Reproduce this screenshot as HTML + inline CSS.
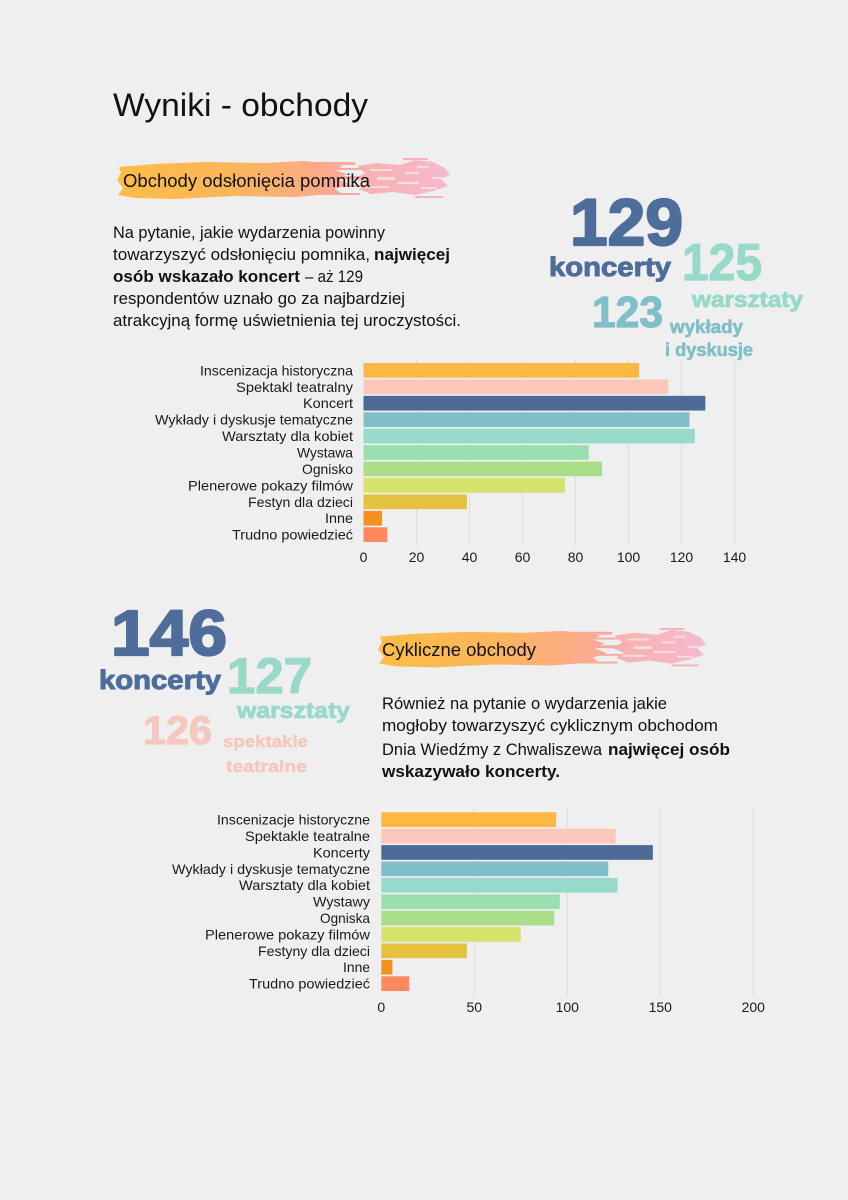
<!DOCTYPE html>
<html>
<head>
<meta charset="utf-8">
<style>
html,body{margin:0;padding:0;background:#efefef;}
svg{display:block;}
text{font-family:"Liberation Sans","DejaVu Sans",sans-serif;}
.b{font-weight:bold;}
.lab{font-size:14px;fill:#1a1a1a;}
.tick{font-size:14px;fill:#1a1a1a;}
.p{font-size:16.5px;fill:#111;}
</style>
</head>
<body>
<svg width="848" height="1200" viewBox="0 0 848 1200" xmlns="http://www.w3.org/2000/svg">
<defs>
<linearGradient id="bg1" gradientUnits="userSpaceOnUse" x1="0" y1="0" x2="335" y2="0">
<stop offset="0" stop-color="#fdbd45"/>
<stop offset="0.35" stop-color="#fcb65a"/>
<stop offset="0.6" stop-color="#fbab86"/>
<stop offset="0.72" stop-color="#f9aaa4"/>
<stop offset="1" stop-color="#f7b4cc"/>
</linearGradient>
<g id="brush">
<path fill="url(#bg1)" d="M4,9 L40,6 L90,4 L150,5 L190,3 L215,6 L228,8 L220,12 L232,16 L222,21 L234,26 L220,31 L226,35 L180,39 L120,38 L60,41 L20,40 L3,37 L8,30 L2,22 L6,15 Z"/>
<g fill="url(#bg1)">
<rect x="195" y="4" width="45" height="3"/>
<rect x="210" y="10" width="40" height="2"/>
<rect x="200" y="18" width="45" height="3"/>
<rect x="215" y="27" width="35" height="2"/>
<rect x="205" y="35" width="40" height="2"/>
<path d="M242,8 L262,5 L285,7 L300,2 L318,4 L330,10 L335,17 L326,21 L333,28 L318,33 L300,37 L278,34 L256,36 L244,31 L252,26 L240,21 L250,15 Z" opacity="0.9"/>
<rect x="300" y="38" width="28" height="2"/>
<rect x="288" y="0" width="25" height="2"/>
</g>
<g fill="#efefef" opacity="0.7">
<rect x="255" y="11" width="22" height="2"/>
<rect x="262" y="19" width="18" height="3"/>
<rect x="250" y="28" width="24" height="2"/>
<rect x="290" y="14" width="14" height="2"/>
<rect x="282" y="24" width="22" height="2"/>
<rect x="306" y="29" width="16" height="2"/>
<rect x="302" y="8" width="12" height="2"/>
<rect x="316" y="19" width="12" height="2"/>
</g>
</g>
</defs>

<rect width="848" height="1200" fill="#efefef"/>

<!-- Title -->
<text x="113" y="116" font-size="32" fill="#111" textLength="255" lengthAdjust="spacingAndGlyphs">Wyniki - obchody</text>

<!-- Brush header 1 -->
<use href="#brush" transform="translate(115,158)"/>
<text x="123" y="187" font-size="18" fill="#111" textLength="247" lengthAdjust="spacingAndGlyphs">Obchody odsłonięcia pomnika</text>

<!-- Paragraph 1 -->
<text class="p" x="113" y="238" textLength="272" lengthAdjust="spacingAndGlyphs">Na pytanie, jakie wydarzenia powinny</text>
<text class="p" x="113" y="260" textLength="257" lengthAdjust="spacingAndGlyphs">towarzyszyć odsłonięciu pomnika,</text>
<text class="p b" x="374" y="260" textLength="76" lengthAdjust="spacingAndGlyphs">najwięcej</text>
<text class="p b" x="113" y="282" textLength="187" lengthAdjust="spacingAndGlyphs">osób wskazało koncert</text>
<text class="p" x="305" y="282" textLength="58" lengthAdjust="spacingAndGlyphs">– aż 129</text>
<text class="p" x="113" y="304" textLength="292" lengthAdjust="spacingAndGlyphs">respondentów uznało go za najbardziej</text>
<text class="p" x="113" y="326" textLength="348" lengthAdjust="spacingAndGlyphs">atrakcyjną formę uświetnienia tej uroczystości.</text>

<!-- Big numbers top right -->
<g stroke-linejoin="round">
<text class="b" x="570" y="245" font-size="66" fill="#4e6d9a" stroke="#4e6d9a" stroke-width="2.2" textLength="113" lengthAdjust="spacingAndGlyphs">129</text>
<text class="b" x="549" y="276" font-size="27" fill="#4e6d9a" stroke="#4e6d9a" stroke-width="1" textLength="122" lengthAdjust="spacingAndGlyphs">koncerty</text>
<text class="b" x="682" y="280" font-size="52" fill="#98d9c9" stroke="#98d9c9" stroke-width="1.2" textLength="80" lengthAdjust="spacingAndGlyphs">125</text>
<text class="b" x="692" y="307" font-size="22" fill="#98d9c9" stroke="#98d9c9" stroke-width="0.8" textLength="111" lengthAdjust="spacingAndGlyphs">warsztaty</text>
<text class="b" x="592" y="327" font-size="44" fill="#80bfc8" stroke="#80bfc8" stroke-width="1.2" textLength="71" lengthAdjust="spacingAndGlyphs">123</text>
<text class="b" x="670" y="333" font-size="18" fill="#80bfc8" stroke="#80bfc8" stroke-width="0.6" textLength="73" lengthAdjust="spacingAndGlyphs">wykłady</text>
<text class="b" x="665" y="356" font-size="18" fill="#80bfc8" stroke="#80bfc8" stroke-width="0.6" textLength="88" lengthAdjust="spacingAndGlyphs">i dyskusje</text>
</g>

<!-- Chart 1 gridlines -->
<g stroke="#dcdcdc" stroke-width="1">
<line x1="416.5" y1="360" x2="416.5" y2="546"/>
<line x1="469.5" y1="360" x2="469.5" y2="546"/>
<line x1="522.5" y1="360" x2="522.5" y2="546"/>
<line x1="575.5" y1="360" x2="575.5" y2="546"/>
<line x1="628.5" y1="360" x2="628.5" y2="546"/>
<line x1="681.5" y1="360" x2="681.5" y2="546"/>
<line x1="734.5" y1="360" x2="734.5" y2="546"/>
</g>
<!-- Chart 1 bars -->
<g>
<rect x="363.5" y="363.0" width="275.6" height="14.7" fill="#fdb843"/>
<rect x="363.5" y="379.43" width="304.75" height="14.7" fill="#fdc7ba"/>
<rect x="363.5" y="395.86" width="341.85" height="14.7" fill="#4e6b98"/>
<rect x="363.5" y="412.29" width="325.95" height="14.7" fill="#7fbfc7"/>
<rect x="363.5" y="428.72" width="331.25" height="14.7" fill="#97d9cb"/>
<rect x="363.5" y="445.15" width="225.25" height="14.7" fill="#9bdfb1"/>
<rect x="363.5" y="461.58" width="238.5" height="14.7" fill="#aadd88"/>
<rect x="363.5" y="478.01" width="201.4" height="14.7" fill="#d5e36c"/>
<rect x="363.5" y="494.44" width="103.35" height="14.7" fill="#e4c23d"/>
<rect x="363.5" y="510.87" width="18.55" height="14.7" fill="#f2931e"/>
<rect x="363.5" y="527.3" width="23.85" height="14.7" fill="#fd885e"/>
</g>
<!-- Chart 1 labels -->
<g class="lab" text-anchor="end">
<text x="353" y="375.3" textLength="153" lengthAdjust="spacingAndGlyphs">Inscenizacja historyczna</text>
<text x="353" y="391.8" textLength="117" lengthAdjust="spacingAndGlyphs">Spektakl teatralny</text>
<text x="353" y="408.2" textLength="50" lengthAdjust="spacingAndGlyphs">Koncert</text>
<text x="353" y="424.6" textLength="198" lengthAdjust="spacingAndGlyphs">Wykłady i dyskusje tematyczne</text>
<text x="353" y="441.1" textLength="131" lengthAdjust="spacingAndGlyphs">Warsztaty dla kobiet</text>
<text x="353" y="457.5" textLength="56" lengthAdjust="spacingAndGlyphs">Wystawa</text>
<text x="353" y="473.9" textLength="51" lengthAdjust="spacingAndGlyphs">Ognisko</text>
<text x="353" y="490.4" textLength="165" lengthAdjust="spacingAndGlyphs">Plenerowe pokazy filmów</text>
<text x="353" y="506.8" textLength="105" lengthAdjust="spacingAndGlyphs">Festyn dla dzieci</text>
<text x="353" y="523.2" textLength="28" lengthAdjust="spacingAndGlyphs">Inne</text>
<text x="353" y="539.6" textLength="121" lengthAdjust="spacingAndGlyphs">Trudno powiedzieć</text>
</g>
<!-- Chart 1 ticks -->
<g class="tick" text-anchor="middle">
<text x="363.5" y="562">0</text>
<text x="416.5" y="562">20</text>
<text x="469.5" y="562">40</text>
<text x="522.5" y="562">60</text>
<text x="575.5" y="562">80</text>
<text x="628.5" y="562">100</text>
<text x="681.5" y="562">120</text>
<text x="734.5" y="562">140</text>
</g>

<!-- Big numbers bottom left -->
<g stroke-linejoin="round">
<text class="b" x="111" y="655" font-size="64" fill="#4e6d9a" stroke="#4e6d9a" stroke-width="2.2" textLength="116" lengthAdjust="spacingAndGlyphs">146</text>
<text class="b" x="99" y="689" font-size="27" fill="#4e6d9a" stroke="#4e6d9a" stroke-width="1" textLength="122" lengthAdjust="spacingAndGlyphs">koncerty</text>
<text class="b" x="227" y="693" font-size="50" fill="#98d9c9" stroke="#98d9c9" stroke-width="1.2" textLength="85" lengthAdjust="spacingAndGlyphs">127</text>
<text class="b" x="237" y="718" font-size="22" fill="#98d9c9" stroke="#98d9c9" stroke-width="0.8" textLength="113" lengthAdjust="spacingAndGlyphs">warsztaty</text>
<text class="b" x="143" y="744" font-size="40" fill="#f5c8be" stroke="#f5c8be" stroke-width="1.2" textLength="69" lengthAdjust="spacingAndGlyphs">126</text>
<text class="b" x="223" y="747" font-size="17" fill="#f5c8be" stroke="#f5c8be" stroke-width="0.5" textLength="85" lengthAdjust="spacingAndGlyphs">spektakle</text>
<text class="b" x="226" y="772" font-size="17" fill="#f5c8be" stroke="#f5c8be" stroke-width="0.5" textLength="81" lengthAdjust="spacingAndGlyphs">teatralne</text>
</g>

<!-- Brush header 2 -->
<use href="#brush" transform="translate(376,628) scale(0.985,0.96)"/>
<text x="382" y="656" font-size="18" fill="#111" textLength="154" lengthAdjust="spacingAndGlyphs">Cykliczne obchody</text>

<!-- Paragraph 2 -->
<text class="p" x="382" y="709" textLength="285" lengthAdjust="spacingAndGlyphs">Również na pytanie o wydarzenia jakie</text>
<text class="p" x="382" y="731" textLength="336" lengthAdjust="spacingAndGlyphs">mogłoby towarzyszyć cyklicznym obchodom</text>
<text class="p" x="382" y="755" textLength="220" lengthAdjust="spacingAndGlyphs">Dnia Wiedźmy z Chwaliszewa</text>
<text class="p b" x="608" y="755" textLength="122" lengthAdjust="spacingAndGlyphs">najwięcej osób</text>
<text class="p b" x="382" y="777" textLength="178" lengthAdjust="spacingAndGlyphs">wskazywało koncerty.</text>

<!-- Chart 2 gridlines -->
<g stroke="#dcdcdc" stroke-width="1">
<line x1="474.3" y1="809" x2="474.3" y2="996"/>
<line x1="567.3" y1="809" x2="567.3" y2="996"/>
<line x1="660.3" y1="809" x2="660.3" y2="996"/>
<line x1="753.3" y1="809" x2="753.3" y2="996"/>
</g>
<!-- Chart 2 bars -->
<g>
<rect x="381.3" y="812.3" width="174.84" height="14.7" fill="#fdb843"/>
<rect x="381.3" y="828.7" width="234.36" height="14.7" fill="#fdc7ba"/>
<rect x="381.3" y="845.1" width="271.56" height="14.7" fill="#4e6b98"/>
<rect x="381.3" y="861.5" width="226.92" height="14.7" fill="#7fbfc7"/>
<rect x="381.3" y="877.9" width="236.22" height="14.7" fill="#97d9cb"/>
<rect x="381.3" y="894.3" width="178.56" height="14.7" fill="#9bdfb1"/>
<rect x="381.3" y="910.7" width="172.98" height="14.7" fill="#aadd88"/>
<rect x="381.3" y="927.1" width="139.5" height="14.7" fill="#d5e36c"/>
<rect x="381.3" y="943.5" width="85.56" height="14.7" fill="#e4c23d"/>
<rect x="381.3" y="959.9" width="11.16" height="14.7" fill="#f2931e"/>
<rect x="381.3" y="976.3" width="27.9" height="14.7" fill="#fd885e"/>
</g>
<!-- Chart 2 labels -->
<g class="lab" text-anchor="end">
<text x="370" y="824.6" textLength="153" lengthAdjust="spacingAndGlyphs">Inscenizacje historyczne</text>
<text x="370" y="841.0" textLength="125" lengthAdjust="spacingAndGlyphs">Spektakle teatralne</text>
<text x="370" y="857.4" textLength="57" lengthAdjust="spacingAndGlyphs">Koncerty</text>
<text x="370" y="873.8" textLength="198" lengthAdjust="spacingAndGlyphs">Wykłady i dyskusje tematyczne</text>
<text x="370" y="890.2" textLength="131" lengthAdjust="spacingAndGlyphs">Warsztaty dla kobiet</text>
<text x="370" y="906.6" textLength="57" lengthAdjust="spacingAndGlyphs">Wystawy</text>
<text x="370" y="923.0" textLength="50" lengthAdjust="spacingAndGlyphs">Ogniska</text>
<text x="370" y="939.4" textLength="165" lengthAdjust="spacingAndGlyphs">Plenerowe pokazy filmów</text>
<text x="370" y="955.8" textLength="112" lengthAdjust="spacingAndGlyphs">Festyny dla dzieci</text>
<text x="370" y="972.2" textLength="27" lengthAdjust="spacingAndGlyphs">Inne</text>
<text x="370" y="988.6" textLength="121" lengthAdjust="spacingAndGlyphs">Trudno powiedzieć</text>
</g>
<!-- Chart 2 ticks -->
<g class="tick" text-anchor="middle">
<text x="381.3" y="1012">0</text>
<text x="474.3" y="1012">50</text>
<text x="567.3" y="1012">100</text>
<text x="660.3" y="1012">150</text>
<text x="753.3" y="1012">200</text>
</g>
</svg>
</body>
</html>
